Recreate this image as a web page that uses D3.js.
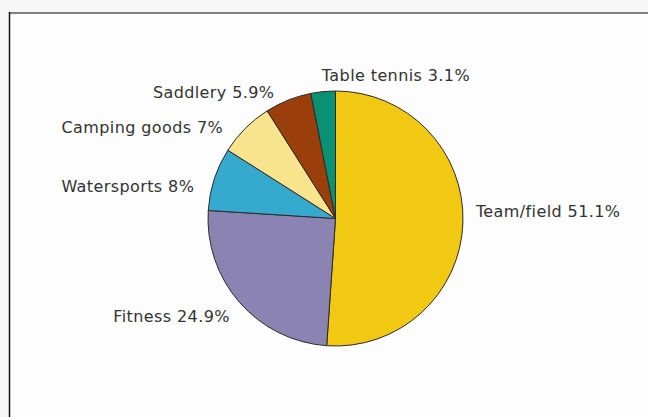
<!DOCTYPE html>
<html>
<head>
<meta charset="utf-8">
<script src="https://cdn.jsdelivr.net/npm/d3@7"></script>
<style>
    body { margin: 0; background: #f7f7f7; }
    #chart { width: 648px; height: 417px; }
    .slice-label { font-family: "DejaVu Sans", Verdana, sans-serif; font-size: 16px; letter-spacing: 0.4px; fill: #333; }
</style>
</head>
<body>
<div id="chart"></div>
<script>
// chart data
let categories = ["Team/field", "Fitness", "Watersports", "Camping goods", "Saddlery", "Table tennis"];
let shares = [51.1, 24.9, 8, 7, 5.9, 3.1];
let labelText = ["51.1%", "24.9%", "8%", "7%", "5.9%", "3.1%"];
let colors = ["#f1c812", "#8b84b2", "#36aace", "#f8e48d", "#9a3f0b", "#0a9173"];

let width = 648, height = 417;

let svg = d3.select("#chart").append("svg")
    .attr("width", width)
    .attr("height", height);

// frame
svg.append("rect")
    .attr("x", 9.5)
    .attr("y", 13.5)
    .attr("width", width)
    .attr("height", height)
    .attr("fill", "#fdfdfd");

svg.append("line")
    .attr("x1", 9).attr("y1", 13)
    .attr("x2", width).attr("y2", 13)
    .attr("stroke", "#808080")
    .attr("stroke-width", 2);

svg.append("line")
    .attr("x1", 9.5).attr("y1", 12)
    .attr("x2", 9.5).attr("y2", height)
    .attr("stroke", "#111")
    .attr("stroke-width", 1.5);

let cx = 335.5, cy = 218.5, radius = 127.5;

let data = categories.map((c, i) => ({name: c, value: shares[i], label: labelText[i], color: colors[i]}));

let pie = d3.pie()
    .sort(null)
    .value(d => d.value);

let arc = d3.arc()
    .innerRadius(0)
    .outerRadius(radius);

let g = svg.append("g")
    .attr("transform", `translate(${cx},${cy})`);

let arcs = pie(data);

g.selectAll("path")
    .data(arcs)
    .enter()
    .append("path")
    .attr("d", arc)
    .attr("fill", d => d.data.color)
    .attr("stroke", "#2a2a2a")
    .attr("stroke-width", 1);

// labels sit just outside the rim, on the slice's middle angle
let labelR = radius + 13;
let midAngle = d => (d.startAngle + d.endAngle) / 2;

g.selectAll("text")
    .data(arcs)
    .enter()
    .append("text")
    .attr("class", "slice-label")
    .attr("x", d => {
        let a = midAngle(d);
        let x = Math.sin(a) * labelR;
        if (Math.sin(a) < -0.2 && Math.cos(a) > 0) x -= 13 * Math.abs(Math.sin(2 * a));
        return x;
    })
    .attr("y", d => {
        let a = midAngle(d);
        let y = -Math.cos(a) * labelR;
        // nudges so the labels clear each other like the original
        if (Math.sin(a) < -0.2 && Math.cos(a) > 0) y += 12 * Math.abs(Math.sin(a));
        else if (Math.abs(Math.sin(a)) <= 0.2 && Math.cos(a) > 0) y -= 3;
        else if (Math.abs(Math.cos(a)) < 0.2) y -= 12;
        else if (Math.cos(a) < 0) y += 5;
        return y;
    })
    .attr("dy", "0.35em")
    .attr("text-anchor", d => Math.sin(midAngle(d)) > -0.15 ? "start" : "end")
    .text(d => d.data.name + " " + d.data.label);
</script>
</body>
</html>
